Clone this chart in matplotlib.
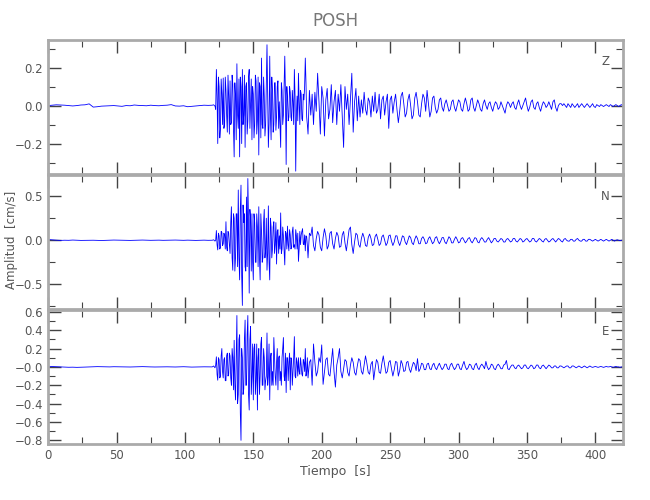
import numpy as np
import matplotlib
matplotlib.use("Agg")
import matplotlib.pyplot as plt
from matplotlib.ticker import MultipleLocator, FixedLocator

# estacion y componentes
station = "POSH"
comps = ["Z", "N", "E"]

# tiempos de muestreo: ruido previo cada 3 s, evento cada 1 s,
# y muestras intermedias (x.5 s) en la fase fuerte
t_pre = np.arange(0, 120, 3)
t_ev = np.arange(120, 421, 1)
t_mid = np.arange(122.5, 190, 1)

z_pre = [0.0, 0.002, 0.004, 0.003, 0.002, 0.0, -0.002, 0.0, 0.003, 0.004,
         0.009, -0.008, -0.006, -0.003, -0.002, -0.001, 0.0, -0.002, -0.004, 0.0,
         -0.001, 0.003, 0.001, 0.0, -0.001, 0.002, 0.0, -0.001, 0.001, 0.002,
         0.005, -0.002, -0.003, -0.001, -0.006, -0.004, -0.002, 0.0, 0.002, 0.001]
n_pre = [0.008, 0.004, 0.001, -0.002, 0.0, -0.001, 0.002, 0.0, -0.002, -0.001,
         0.001, 0.0, -0.002, -0.003, -0.001, 0.0, 0.002, 0.001, -0.001, 0.0,
         -0.002, -0.001, 0.001, 0.002, 0.0, -0.001, 0.0, 0.001, -0.001, 0.0,
         0.001, 0.002, 0.0, -0.001, 0.001, 0.0, -0.002, 0.0, 0.001, -0.001]
e_pre = [0.002, 0.004, 0.002, 0.0, -0.002, -0.004, -0.003, -0.005, -0.004, -0.002,
         0.0, 0.002, 0.003, 0.002, 0.001, 0.0, 0.002, 0.001, 0.0, -0.002,
         -0.001, 0.0, 0.002, 0.003, 0.001, 0.0, -0.001, 0.0, 0.002, 0.001,
         0.0, -0.001, 0.001, 0.002, 0.0, -0.002, -0.001, 0.0, 0.001, 0.0]

z_ev = [0.002, 0.004, -0.003, 0.19, -0.20, 0.10, -0.12, 0.06, 0.145, -0.10,
        0.08, -0.14, 0.05, 0.13, -0.09, 0.11, -0.27, 0.05, 0.22, -0.12,
        -0.27, 0.10, 0.19, -0.05, -0.22, 0.12, -0.08, 0.19, 0.02, -0.18,
        0.06, -0.10, 0.13, -0.08, -0.26, 0.10, 0.25, -0.12, 0.05, -0.10,
        0.32, -0.22, 0.26, -0.18, 0.08, -0.10, 0.12, -0.06, 0.13, 0.02,
        -0.22, 0.08, -0.05, 0.26, -0.31, 0.04, -0.06, 0.07, -0.08, 0.02,
        0.19, -0.345, 0.05, 0.17, -0.10, 0.06, -0.08, 0.03, 0.25, -0.06,
        -0.15, 0.08, -0.05, 0.06, -0.10, 0.07, -0.03, 0.17, 0.02, -0.15,
        0.10, 0.04, -0.16, 0.03, 0.09, -0.07, -0.02, 0.11, -0.09, 0.02,
        0.08, -0.10, 0.06, -0.03, 0.11, -0.06, -0.22, 0.10, -0.02, 0.06,
        -0.10, 0.04, 0.17, -0.14, 0.02, 0.09, -0.08, 0.05, -0.06, 0.03,
        -0.04, 0.07, -0.02, -0.05, 0.04, 0.02, -0.06, 0.05, -0.03, 0.07,
        -0.04, -0.02, 0.06, -0.07, 0.03, 0.05, -0.05, 0.02, 0.06, -0.12,
        0.03, 0.05, -0.04, 0.02, 0.06, -0.02, -0.09, -0.03, 0.05, 0.07,
        0.01, -0.06, -0.04, 0.03, 0.06, 0.00, -0.07, -0.05, 0.04, 0.07,
        0.02, -0.05, -0.06, 0.01, 0.06, 0.04, -0.03, 0.08, 0.01, -0.06,
        -0.03, 0.04, 0.05, -0.01, -0.04, -0.02, 0.03, 0.04, -0.01, -0.03,
        0.01, 0.03, 0.00, -0.03, -0.02, 0.02, 0.03, -0.01, -0.03, 0.00,
        0.03, 0.02, -0.02, -0.03, 0.01, 0.04, 0.01, -0.03, -0.02, 0.03,
        0.04, -0.01, -0.03, 0.00, 0.03, 0.01, -0.02, -0.03, 0.01, 0.03,
        0.00, -0.02, 0.01, 0.02, -0.01, -0.03, 0.00, 0.02, 0.01, -0.02,
        -0.01, 0.02, 0.00, -0.02, -0.04, 0.00, 0.02, 0.01, -0.01, 0.01,
        0.02, -0.01, -0.02, 0.01, 0.03, 0.00, -0.02, 0.00, 0.02, 0.04,
        0.00, -0.03, -0.01, 0.02, 0.03, -0.01, -0.02, 0.01, 0.02, -0.01,
        -0.03, 0.00, 0.02, 0.01, -0.01, 0.00, 0.02, 0.00, -0.02, 0.02,
        0.03, -0.01, -0.03, 0.00, 0.01, 0.01, 0.00, 0.01, 0.00, -0.01,
        0.01, 0.00, -0.01, 0.01, 0.00, -0.01, 0.00, 0.01, -0.01, 0.00,
        0.01, 0.00, -0.01, 0.00, 0.01, 0.00, -0.01, 0.00, 0.01, -0.005,
        -0.01, 0.005, 0.00, -0.005, 0.005, 0.00, -0.005, 0.00, 0.005, 0.00,
        -0.005, 0.005, 0.00, -0.005, 0.00, 0.005, 0.00, -0.005, 0.00, 0.005,
        0.00]

n_ev = [0.0, 0.005, -0.01, 0.11, -0.11, 0.05, -0.08, 0.09, -0.04, 0.06,
        0.21, -0.12, 0.08, -0.15, 0.38, -0.34, 0.25, -0.20, 0.30, 0.57,
        -0.45, 0.625, -0.74, 0.20, -0.30, 0.49, 0.70, -0.60, 0.25, 0.30,
        -0.45, 0.20, -0.25, 0.15, 0.38, -0.45, 0.10, -0.20, 0.35, -0.10,
        -0.34, 0.39, -0.45, 0.15, -0.10, 0.21, -0.05, -0.27, 0.12, 0.05,
        0.31, -0.10, 0.05, -0.28, 0.08, 0.16, -0.12, 0.06, -0.08, 0.15,
        -0.05, 0.12, -0.10, -0.24, 0.10, 0.06, 0.13, -0.05, -0.12, 0.04,
        -0.20, 0.08, 0.05, 0.15, -0.06, -0.12, 0.02, 0.10, 0.06, -0.08,
        -0.12, 0.03, 0.13, 0.05, -0.10, -0.06, 0.08, 0.10, -0.04, -0.10,
        0.02, 0.09, 0.05, -0.08, -0.07, 0.06, 0.10, -0.03, -0.12, 0.00,
        0.12, 0.15, -0.05, -0.15, -0.02, 0.08, 0.06, -0.05, -0.08, 0.02,
        0.08, 0.03, -0.06, -0.07, 0.03, 0.07, 0.02, -0.06, -0.05, 0.04,
        0.07, 0.01, -0.06, -0.04, 0.04, 0.06, 0.00, -0.06, -0.03, 0.05,
        0.06, -0.01, -0.06, -0.02, 0.05, 0.05, -0.02, -0.06, -0.01, 0.05,
        0.04, -0.02, -0.05, 0.00, 0.05, 0.03, -0.03, -0.05, 0.01, 0.05,
        0.02, -0.04, -0.04, 0.02, 0.04, 0.01, -0.04, -0.03, 0.02, 0.04,
        0.00, -0.04, -0.02, 0.03, 0.04, -0.01, -0.04, -0.01, 0.03, 0.03,
        -0.02, -0.04, 0.00, 0.04, 0.02, -0.03, -0.03, 0.01, 0.04, 0.01,
        -0.03, -0.02, 0.02, 0.03, 0.00, -0.03, -0.01, 0.02, 0.03, -0.01,
        -0.03, 0.00, 0.03, 0.02, -0.02, -0.03, 0.01, 0.03, 0.01, -0.02,
        -0.02, 0.01, 0.03, 0.00, -0.03, -0.01, 0.02, 0.02, -0.01, -0.02,
        0.00, 0.02, 0.01, -0.02, -0.02, 0.01, 0.02, 0.00, -0.02, -0.01,
        0.02, 0.02, -0.01, -0.02, 0.00, 0.02, 0.01, -0.02, -0.01, 0.01,
        0.02, 0.00, -0.02, -0.01, 0.02, 0.02, -0.01, -0.02, 0.00, 0.02,
        0.01, -0.01, -0.02, 0.01, 0.02, 0.00, -0.02, -0.01, 0.01, 0.02,
        0.00, -0.02, 0.00, 0.02, 0.01, -0.01, -0.02, 0.01, 0.02, 0.00,
        -0.01, -0.01, 0.01, 0.01, -0.01, -0.01, 0.01, 0.02, 0.00, -0.01,
        -0.01, 0.01, 0.01, -0.01, -0.01, 0.01, 0.01, 0.00, -0.01, 0.00,
        0.01, 0.00, -0.01, 0.00, 0.01, 0.00, -0.01, 0.00, 0.01, 0.00,
        -0.01, 0.00, 0.01, 0.00, -0.01, 0.00, 0.005, 0.00, -0.005, 0.00,
        0.00]

e_ev = [0.0, 0.01, -0.01, 0.11, -0.145, 0.08, -0.10, 0.20, -0.12, 0.10,
        -0.15, 0.15, -0.08, 0.12, -0.20, 0.10, 0.29, -0.36, 0.56, -0.30,
        0.35, -0.80, 0.10, -0.24, 0.51, -0.20, 0.56, -0.47, 0.44, -0.10,
        -0.36, 0.25, -0.15, -0.47, 0.20, -0.10, 0.32, -0.20, 0.10, -0.15,
        0.37, -0.10, -0.36, 0.15, -0.05, 0.32, -0.10, 0.05, -0.25, 0.12,
        -0.05, 0.10, 0.32, -0.15, -0.28, 0.10, 0.05, -0.25, 0.08, -0.05,
        0.33, -0.12, 0.05, 0.10, -0.08, 0.02, -0.10, 0.05, 0.20, -0.05,
        -0.12, 0.05, 0.08, -0.20, 0.25, 0.05, -0.10, -0.05, 0.10, 0.05,
        0.24, -0.19, -0.05, 0.08, 0.10, -0.08, -0.10, 0.05, 0.20, -0.05,
        -0.22, 0.02, 0.10, 0.20, -0.05, -0.12, -0.02, 0.08, 0.06, -0.06,
        -0.10, 0.02, 0.10, 0.05, -0.06, -0.09, 0.01, 0.09, 0.07, -0.05,
        -0.08, 0.02, 0.12, 0.04, -0.06, -0.08, 0.03, 0.06, -0.14, -0.02,
        0.08, 0.05, -0.06, -0.07, 0.04, 0.12, 0.02, -0.07, -0.05, 0.05,
        0.07, -0.02, -0.10, -0.03, 0.06, 0.05, -0.10, -0.04, 0.07, 0.03,
        -0.05, -0.04, 0.05, 0.06, -0.02, -0.06, 0.00, 0.05, 0.03, -0.04,
        0.09, -0.05, -0.02, 0.04, 0.03, -0.03, -0.03, 0.03, 0.04, -0.02,
        -0.03, 0.02, 0.04, -0.01, -0.03, 0.01, 0.04, 0.00, -0.03, -0.01,
        0.03, 0.03, -0.02, -0.03, 0.02, 0.04, 0.00, -0.03, -0.01, 0.03,
        0.03, -0.02, -0.03, 0.02, 0.06, 0.00, -0.03, -0.01, 0.03, 0.02,
        -0.02, -0.03, 0.02, 0.04, -0.01, -0.03, 0.01, 0.03, 0.01, -0.02,
        0.06, 0.00, -0.03, -0.01, 0.03, 0.02, -0.02, -0.03, 0.01, 0.03,
        0.01, -0.02, -0.02, 0.02, 0.03, 0.07, -0.02, -0.03, 0.00, 0.02,
        0.02, -0.01, -0.02, 0.01, 0.02, 0.00, -0.02, -0.01, 0.02, 0.02,
        -0.01, -0.02, 0.00, 0.02, 0.01, -0.02, -0.01, 0.02, 0.02, -0.01,
        -0.02, 0.01, 0.02, 0.00, -0.02, 0.00, 0.02, 0.01, -0.01, -0.01,
        0.01, 0.01, -0.01, -0.01, 0.01, 0.01, 0.00, -0.01, 0.00, 0.01,
        0.01, -0.01, -0.01, 0.01, 0.01, 0.00, -0.01, 0.00, 0.01, 0.00,
        -0.01, 0.00, 0.01, 0.00, -0.01, 0.00, 0.01, 0.00, -0.005, 0.00,
        0.005, 0.00, -0.005, 0.00, 0.005, 0.00, -0.005, 0.00, 0.005, 0.00,
        0.00, 0.005, 0.00, -0.005, 0.00, 0.005, 0.00, 0.00, -0.005, 0.00,
        0.00]

# muestras intermedias 122.5 ... 189.5 s
z_mid = [-0.02, 0.05, 0.15, -0.17, 0.14, -0.10, -0.12, 0.15,
         -0.05, 0.16, -0.15, -0.10, 0.16, -0.12, 0.12, -0.18, -0.05, 0.14,
         0.15, -0.20, -0.10, 0.16, 0.10, -0.15, 0.15, -0.12, 0.14, 0.10,
         -0.17, 0.16, -0.15, 0.15, 0.12, -0.17, -0.10, 0.15, -0.16, 0.12,
         0.05, -0.10, -0.05, 0.15, -0.14, 0.12, -0.13, 0.10, -0.12, -0.10,
         0.12, -0.10, 0.11, 0.05, 0.10, -0.08, 0.10, -0.06, 0.08, -0.10,
         0.05, -0.05, -0.08, 0.02, 0.08, -0.07, 0.06, 0.10, 0.12, -0.10]
n_mid = [0.0, -0.05, 0.08, -0.10, 0.10, -0.06, 0.08, -0.10,
         -0.08, 0.10, -0.05, 0.20, -0.20, 0.30, -0.35, 0.30, -0.30, -0.20,
         0.35, -0.40, 0.40, 0.30, -0.35, -0.30, 0.20, 0.35, -0.35, -0.25,
         0.30, -0.25, 0.30, -0.30, -0.20, 0.30, -0.25, 0.20, -0.20, 0.25,
         -0.15, -0.25, 0.25, -0.20, 0.15, -0.15, 0.20, 0.10, -0.15, -0.10,
         -0.15, 0.15, -0.12, 0.10, -0.10, -0.05, 0.12, -0.10, 0.10, -0.08,
         -0.10, 0.05, 0.08, -0.10, -0.05, 0.10, -0.04, 0.06, 0.05, -0.06]
e_mid = [0.02, -0.08, 0.10, -0.12, 0.12, -0.05, 0.08, -0.15,
         0.12, -0.10, 0.15, -0.12, 0.20, -0.25, -0.20, 0.10, -0.40, 0.30,
         -0.50, 0.20, -0.30, 0.30, -0.20, 0.35, -0.30, 0.30, -0.30, 0.25,
         0.20, -0.30, 0.25, 0.10, -0.30, 0.25, -0.20, 0.20, -0.25, -0.10,
         -0.20, 0.25, 0.10, -0.20, -0.20, 0.10, -0.20, 0.20, 0.10, -0.15,
         -0.20, 0.20, -0.10, 0.15, 0.10, -0.15, 0.15, 0.10, -0.20, 0.10,
         -0.10, 0.10, -0.10, -0.05, 0.10, -0.08, 0.08, -0.05, -0.10, 0.10]

# ejes y etiquetas por componente
ylims = [(-0.36, 0.345), (-0.78, 0.74), (-0.84, 0.62)]
yticks = [[-0.2, 0.0, 0.2], [-0.5, 0.0, 0.5],
          [-0.8, -0.6, -0.4, -0.2, 0.0, 0.2, 0.4, 0.6]]
ylabels = [["\u22120.2", "0.0", "0.2"], ["\u22120.5", "0.0", "0.5"],
           ["\u22120.8", "\u22120.6", "\u22120.4", "\u22120.2", "\u22120.0",
            "0.2", "0.4", "0.6"]]
yminor = [0.1, 0.25, 0.1]

t = np.concatenate([t_pre, t_ev, t_mid])
order = np.argsort(t, kind="stable")
t = t[order]
traces = [np.concatenate([z_pre, z_ev, z_mid])[order],
          np.concatenate([n_pre, n_ev, n_mid])[order],
          np.concatenate([e_pre, e_ev, e_mid])[order]]

txt = "#555555"
fig = plt.figure(figsize=(6.5, 5), dpi=100)
tops = [0.92, 0.65, 0.38]
h = 0.268
for i in range(3):
    ax = fig.add_axes([0.074, tops[i] - h, 0.884, h])
    ax.plot(t, traces[i], color="#0000ff", lw=0.6)
    ax.set_xlim(0, 420)
    ax.set_ylim(*ylims[i])
    ax.xaxis.set_major_locator(MultipleLocator(50))
    ax.xaxis.set_minor_locator(MultipleLocator(25))
    ax.yaxis.set_major_locator(FixedLocator(yticks[i]))
    ax.set_yticklabels(ylabels[i])
    ax.yaxis.set_minor_locator(MultipleLocator(yminor[i]))
    ax.tick_params(which="both", direction="in", top=True, right=True,
                   colors="#444444", labelcolor=txt, labelsize=8.5)
    ax.tick_params(which="major", length=9, width=1)
    ax.tick_params(which="minor", length=5, width=0.8)
    for s in ax.spines.values():
        s.set_color("#aaaaaa")
        s.set_linewidth(2)
    ax.text(0.97, 0.84, comps[i], transform=ax.transAxes, color=txt,
            fontsize=8.5, ha="center", va="center")
    if i < 2:
        ax.set_xticklabels([])
    else:
        ax.set_xlabel("Tiempo  [s]", color=txt, fontsize=9, labelpad=2)

fig.text(0.516, 0.958, station, ha="center", va="center", color="#777777",
         fontsize=12)
fig.text(0.018, 0.52, "Amplitud  [cm/s]", rotation=90, ha="center",
         va="center", color=txt, fontsize=8.5)

fig.savefig("out.png", dpi=100)
